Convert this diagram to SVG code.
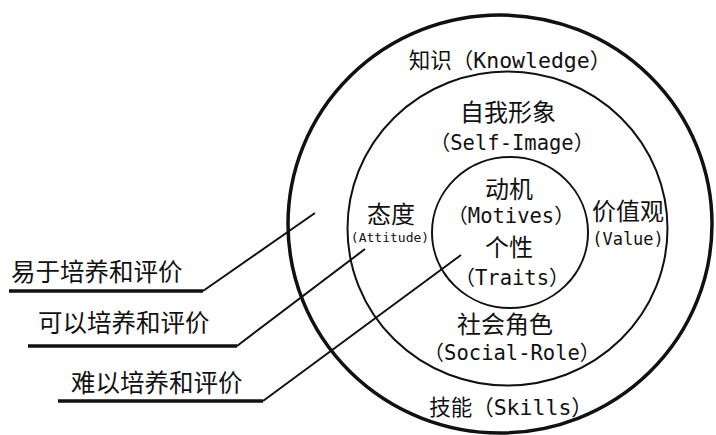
<svg xmlns="http://www.w3.org/2000/svg" width="716" height="435" viewBox="0 0 716 435">
<style>
.t{font-family:"DejaVu Sans Mono","Noto Sans CJK SC",monospace;fill:#111;text-anchor:middle}
.z{font-family:"Noto Sans CJK SC",sans-serif;fill:#111;text-anchor:middle;font-size:24px}
.l{font-family:"Noto Sans CJK SC",sans-serif;fill:#111;font-size:24.5px}
.c{fill:none;stroke:#111}
.ln{fill:none;stroke:#111;stroke-linejoin:round}
</style>
<rect width="716" height="435" fill="#fff"/>
<g id="outer">
<ellipse class="c" cx="500" cy="224" rx="212" ry="209" stroke-width="3.5"/>
<text class="t" x="510" y="68" font-size="21.5">知识（Knowledge）</text>
<text class="t" x="511" y="415" font-size="21.5">技能（Skills）</text>
</g>
<g id="middle">
<ellipse class="c" cx="507.5" cy="228.5" rx="160" ry="157" stroke-width="2"/>
<text class="z" x="508" y="121">自我形象</text>
<text class="t" x="512" y="150" font-size="20.5">（Self-Image）</text>
<text class="z" x="505" y="333">社会角色</text>
<text class="t" x="512" y="360" font-size="20.5">（Social-Role）</text>
<text class="z" x="391" y="223">态度</text>
<text class="t" x="390" y="242" font-size="13">(Attitude)</text>
<text class="z" x="628" y="220">价值观</text>
<text class="t" x="628" y="245" font-size="17">(Value)</text>
</g>
<g id="inner">
<ellipse class="c" cx="510" cy="232.5" rx="78" ry="75.5" stroke-width="2"/>
<text class="z" x="509" y="198">动机</text>
<text class="t" x="511" y="223" font-size="20.5">（Motives）</text>
<text class="z" x="509" y="256">个性</text>
<text class="t" x="512" y="285" font-size="20.5">（Traits）</text>
</g>
<g id="labels">
<text class="l" x="11" y="281">易于培养和评价</text>
<text class="l" x="38" y="332">可以培养和评价</text>
<text class="l" x="71" y="392">难以培养和评价</text>
</g>
<g id="connectors">
<polyline class="ln" points="9,291 203,291" stroke-width="3.5"/>
<polyline class="ln" points="203,291 315,213" stroke-width="2"/>
<polyline class="ln" points="28,346 237,346" stroke-width="3.5"/>
<polyline class="ln" points="237,346 365,249" stroke-width="2"/>
<polyline class="ln" points="58,401 263,401" stroke-width="3.5"/>
<polyline class="ln" points="263,401 461,255" stroke-width="2"/>
</g>
</svg>
